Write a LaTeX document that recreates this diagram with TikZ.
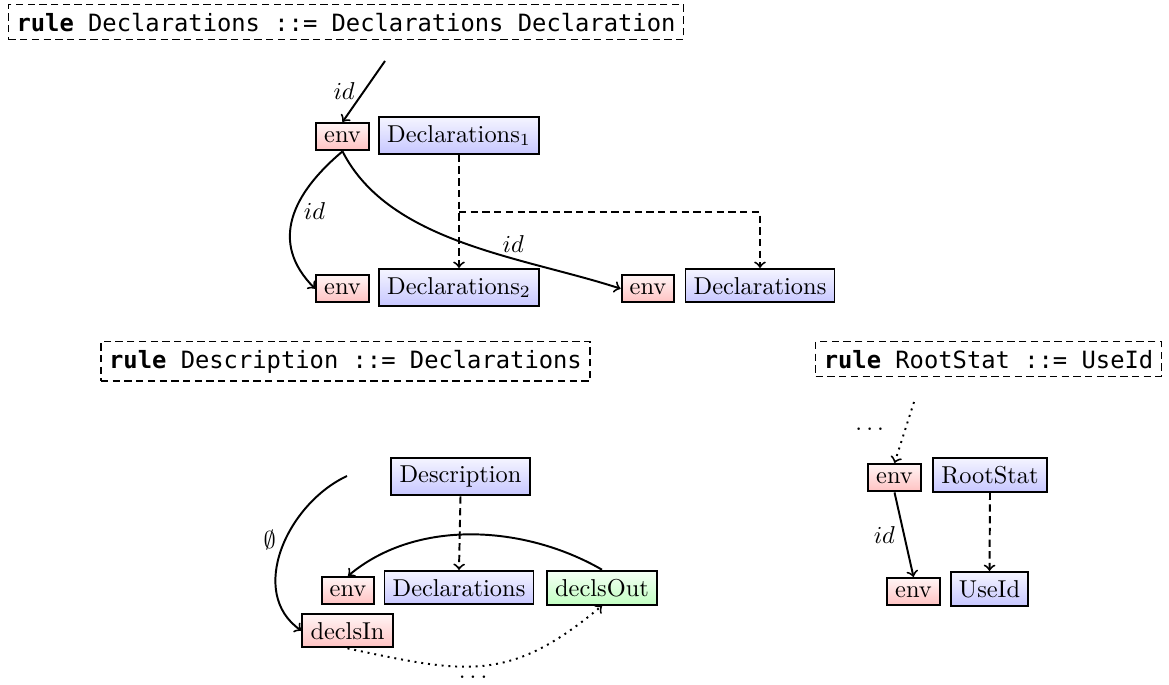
\documentclass[tikz,border=0pt]{standalone}
\usepackage{fontspec}
\newfontfamily\codefont{DejaVu Sans Mono}[Scale=0.975]

\tikzset{
  box/.style={draw, thick, anchor=base},
  inh/.style={box, top color=red!4, bottom color=red!24},
  nt/.style={box, top color=blue!4, bottom color=blue!22},
  syn/.style={box, top color=green!4, bottom color=green!24},
  rulebox/.style={draw, line width=0.5pt, dash pattern=on 3pt off 1.8pt, anchor=base, font=\codefont},
  flow/.style={thick, ->},
  tree/.style={thick, ->, dash pattern=on 3pt off 1.8pt},
  more/.style={thick, ->, dotted},
}

\begin{document}
\begin{tikzpicture}[x=0.4098pt, y=-0.4098pt]
\useasboundingbox (0,0) rectangle (1169,684);

% grammar rules
\node[rulebox] (r1) at (346,31) {\textbf{rule} Declarations ::= Declarations Declaration};
\node[rulebox] (r2) at (345.5,368) {\textbf{rule} Description ::= Declarations};
\node[rulebox] (r3) at (988.5,368) {\textbf{rule} RootStat ::= UseId};

% rule Declarations ::= Declarations Declaration
\node[inh] (e1) at (342.5,142) {env};
\node[nt]  (d1) at (459,142) {Declarations$_1$};
\node[inh] (e2) at (342.5,294) {env};
\node[nt]  (d2) at (459,294) {Declarations$_2$};
\node[inh] (e3) at (648,294) {env};
\node[nt]  (d3) at (760,294) {Declarations};
\coordinate (top1) at (385,61);
\coordinate (br) at (459,212);

\draw[flow] (top1) -- node[left] {$id$} (e1.north);
\draw[flow] (e1.south) to[out=-140, in=135, looseness=1.2] node[pos=0.45, right] {$id$} (e2.west);
\draw[flow] (e1.south) to[out=-63, in=162, looseness=0.85] node[pos=0.66, above, inner sep=2pt] {$id$} (e3.west);
\draw[tree] (d1.south) -- (d2.north);
\draw[tree] (br) -| (d3.north);

% rule Description ::= Declarations
\node[nt]  (desc) at (460.5,482.5) {Description};
\node[inh] (e4) at (348,596) {env};
\node[nt]  (d4) at (459,596) {Declarations};
\node[syn] (out) at (602,596) {declsOut};
\node[inh] (in) at (347.5,639) {declsIn};
\coordinate (top2) at (347,476);

\draw[tree] (desc.south) -- (d4.north);
\draw[flow] (out.north) to[out=150, in=40, looseness=0.9] (e4.north);
\draw[flow] (top2) to[out=205, in=145, looseness=1.05] node[pos=0.45, left] {$\emptyset$} (in.west);
\draw[more] (in.south) to[out=-12, in=-140, looseness=1.2] node[pos=0.45, below=2pt, inner sep=1.5pt] {$\dots$} (out.south);

% rule RootStat ::= UseId
\node[inh] (e5) at (894.5,483) {env};
\node[nt]  (rs) at (990,483) {RootStat};
\node[inh] (e6) at (913.5,597) {env};
\node[nt]  (ui) at (989.5,597) {UseId};
\coordinate (top3) at (914,402);

\draw[more] (top3) -- node[left=5pt, pos=0.45] {$\dots$} (e5.north);
\draw[flow] (e5.south) -- node[left] {$id$} (e6.north);
\draw[tree] (rs.south) -- (ui.north);
\end{tikzpicture}
\end{document}
